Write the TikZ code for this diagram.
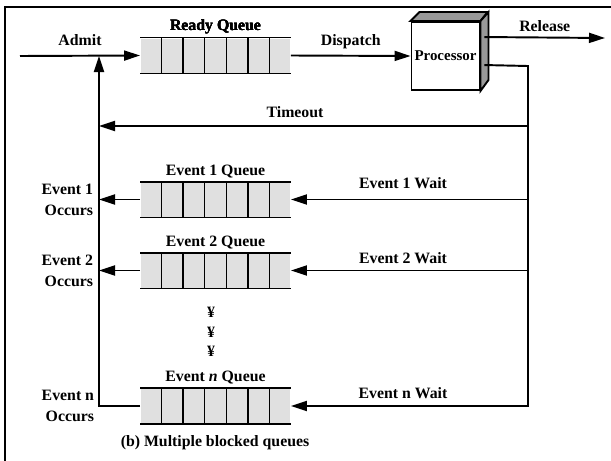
\documentclass[tikz,border=0pt]{standalone}
\usepackage{fontspec}
\setmainfont{Liberation Serif}
\usetikzlibrary{arrows.meta, positioning, calc}

\newcommand{\qcells}[1]{%
  \draw (#1.north west) -- (#1.north east) (#1.south west) -- (#1.south east);
  \foreach \i in {1,...,6}
    \draw[line width=0.8pt] ($(#1.north west)!\i/7!(#1.north east)$) -- ($(#1.south west)!\i/7!(#1.south east)$);
}

\begin{document}
\begin{tikzpicture}[x=0.2mm, y=-0.2mm, line width=1.1pt,
  font=\bfseries\fontsize{9}{11}\selectfont,
  flow/.style={-{Triangle[length=3.2mm, width=2mm]}},
  queue/.style={rectangle, fill=black!12, minimum width=29.8mm, minimum height=6.8mm, inner sep=0pt},
  qname/.style={above=0.5pt, inner sep=1pt},
  tag/.style={inner sep=1pt},
  toptag/.style={inner sep=1pt, text depth=0pt, above=#1},
  occ/.style={anchor=east, align=right, inner sep=0pt}]
  \useasboundingbox (0,0) rectangle (611,461);
  % Frame
  \draw[line width=1.2pt] (611,7) -- (5,7) -- (5,461);
  % Queues
  \node[queue] (rq) at (215.5,55.5) {};
  \node[queue] (q1) at (215.5,199.5) {};
  \node[queue] (q2) at (215.5,270.5) {};
  \node[queue] (qn) at (215.5,406) {};
  \foreach \q in {rq, q1, q2, qn}
    \qcells{\q}
  \node[qname] at (rq.north) {Ready Queue};
  \node[qname] at (q1.north) {Event 1 Queue};
  \node[qname] at (q2.north) {Event 2 Queue};
  \node[qname] at (qn.north) {Event \textit{n} Queue};
  % Processor
  \node[rectangle, draw, fill=white, minimum size=13.6mm, inner sep=0pt,
        font=\bfseries\fontsize{8.5}{10}\selectfont] (proc) at (445.5,56) {Processor};
  \draw[fill=black!40] (proc.north west) -- ++(9,-9) -- ++(68,0) -- (proc.north east) -- cycle;
  \draw[fill=black!40] (proc.north east) -- ++(8,-9) -- ++(0,68) -- (proc.south east) -- cycle;
  \coordinate (rel) at ($(proc.north east)+(4,16)$);
  \coordinate (tmo) at ($(proc.north east)+(4,44)$);
  \coordinate (relend) at (605,38);
  \coordinate (ret) at (528,66);
  \coordinate (tout) at (528,126);
  \coordinate (admit) at (20,56);
  \coordinate (join) at (99,56);
  % Top row
  \draw[flow] (admit) -- node[toptag=4pt] {Admit} (rq.west);
  \draw[flow] (rq.east) -- node[toptag=4pt] {Dispatch} (proc.west);
  \draw[flow] (rel) -- node[toptag=2pt] {Release} (relend);
  % Return line
  \draw[flow] (tmo) -- (ret) |- (qn.east);
  \draw[flow] (tout) -- (tout -| join);
  \node[tag] at (295,112) {Timeout};
  \draw[flow] (ret |- q1.east) -- (q1.east);
  \draw[flow] (ret |- q2.east) -- (q2.east);
  \node[tag] at (403,183) {Event 1 Wait};
  \node[tag] at (403,258) {Event 2 Wait};
  \node[tag] at (403,393) {Event n Wait};
  % Event occurs
  \draw[flow] (q1.west) -- (q1.west -| join);
  \draw[flow] (q2.west) -- (q2.west -| join);
  \draw[flow] (qn.west) -| (join);
  \node[occ] at (94,199.5) {Event 1\\[1pt]Occurs};
  \node[occ] at (94,270.5) {Event 2\\[1pt]Occurs};
  \node[occ] at (95,406) {Event n\\[1pt]Occurs};
  % Dots
  \foreach \y [count=\k] in {312,332,351}
    \node[tag] (dot\k) at (211,\y) {¥};
  \node[tag] (cap) at (215,443) {(b) Multiple blocked queues};
\end{tikzpicture}
\end{document}
